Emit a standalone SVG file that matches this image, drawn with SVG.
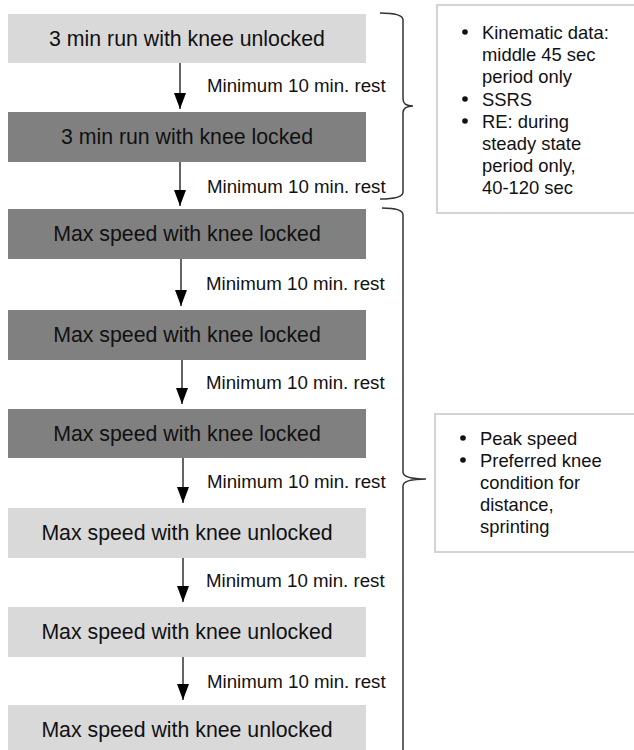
<svg xmlns="http://www.w3.org/2000/svg" width="634" height="750" viewBox="0 0 634 750">
<defs>
<style>
.lt{fill:#d9d9d9}
.dk{fill:#808080}
.bt{font-family:"Liberation Sans",Arial,sans-serif;font-size:21.3px;fill:#111;text-anchor:middle}
.lb{font-family:"Liberation Sans",Arial,sans-serif;font-size:18.7px;fill:#111}
.ln{stroke:#111;stroke-width:1.3;fill:none}
.br{stroke:#333;stroke-width:1.5;fill:none}
.nb{fill:#fff;stroke:#d4d4d4;stroke-width:2}
.nt{font-family:"Liberation Sans",Arial,sans-serif;font-size:18.4px;fill:#111}
</style>
<marker id="ah" markerWidth="16" markerHeight="12" refX="16" refY="6" orient="auto" markerUnits="userSpaceOnUse" viewBox="0 0 16 12"><path d="M0,0 L16,6 L0,12 Z" fill="#000"/></marker>
</defs>
<rect width="634" height="750" fill="#fff"/>
<g id="n1"><rect class="lt" x="8" y="14" width="358" height="49"/><text class="bt" x="187" y="46">3 min run with knee unlocked</text></g>
<g id="n2"><rect class="dk" x="8" y="112" width="358" height="50"/><text class="bt" x="187" y="144">3 min run with knee locked</text></g>
<g id="n3"><rect class="dk" x="8" y="209" width="358" height="50"/><text class="bt" x="187" y="241">Max speed with knee locked</text></g>
<g id="n4"><rect class="dk" x="8" y="310" width="358" height="50"/><text class="bt" x="187" y="342">Max speed with knee locked</text></g>
<g id="n5"><rect class="dk" x="8" y="409" width="358" height="49"/><text class="bt" x="187" y="441">Max speed with knee locked</text></g>
<g id="n6"><rect class="lt" x="8" y="508" width="358" height="50"/><text class="bt" x="187" y="540">Max speed with knee unlocked</text></g>
<g id="n7"><rect class="lt" x="8" y="607" width="358" height="50"/><text class="bt" x="187" y="639">Max speed with knee unlocked</text></g>
<g id="n8"><rect class="lt" x="8" y="705" width="358" height="50"/><text class="bt" x="187" y="737">Max speed with knee unlocked</text></g>
<g id="connectors">
<line class="ln" x1="180" y1="63" x2="180" y2="109" marker-end="url(#ah)"/>
<line class="ln" x1="180" y1="162" x2="180" y2="206" marker-end="url(#ah)"/>
<line class="ln" x1="181" y1="259" x2="181" y2="306" marker-end="url(#ah)"/>
<line class="ln" x1="182" y1="360" x2="182" y2="404" marker-end="url(#ah)"/>
<line class="ln" x1="183" y1="458" x2="183" y2="503" marker-end="url(#ah)"/>
<line class="ln" x1="183" y1="558" x2="183" y2="602" marker-end="url(#ah)"/>
<line class="ln" x1="183" y1="657" x2="183" y2="700" marker-end="url(#ah)"/>
<text class="lb" x="207" y="92">Minimum 10 min. rest</text>
<text class="lb" x="207" y="193">Minimum 10 min. rest</text>
<text class="lb" x="206" y="290">Minimum 10 min. rest</text>
<text class="lb" x="206" y="389">Minimum 10 min. rest</text>
<text class="lb" x="207" y="488">Minimum 10 min. rest</text>
<text class="lb" x="206" y="587">Minimum 10 min. rest</text>
<text class="lb" x="207" y="688">Minimum 10 min. rest</text>
</g>
<g id="brace1"><path class="br" d="M380,13 Q403,13 403,20 L403,99 Q403,106 413,106 Q403,106 403,113 L403,192 Q403,199 380,199"/></g>
<g id="brace2"><path class="br" d="M382,208 Q403,208 403,215 L403,472 Q403,479 426,479 Q403,479 403,486 L403,752"/></g>
<g id="note1"><rect class="nb" x="437" y="5" width="210" height="208"/>
<g class="nt">
<circle cx="465" cy="32" r="2.8" fill="#111"/>
<text x="482" y="39">Kinematic data:</text>
<text x="482" y="61">middle 45 sec</text>
<text x="482" y="83">period only</text>
<circle cx="465" cy="99" r="2.8" fill="#111"/>
<text x="482" y="106">SSRS</text>
<circle cx="465" cy="121" r="2.8" fill="#111"/>
<text x="482" y="128">RE: during</text>
<text x="482" y="150">steady state</text>
<text x="482" y="172">period only,</text>
<text x="482" y="194">40-120 sec</text>
</g></g>
<g id="note2"><rect class="nb" x="435" y="414" width="212" height="138"/>
<g class="nt">
<circle cx="463" cy="438" r="2.8" fill="#111"/>
<text x="480" y="445">Peak speed</text>
<circle cx="463" cy="460" r="2.8" fill="#111"/>
<text x="480" y="467">Preferred knee</text>
<text x="480" y="489">condition for</text>
<text x="480" y="511">distance,</text>
<text x="480" y="533">sprinting</text>
</g></g>
</svg>
